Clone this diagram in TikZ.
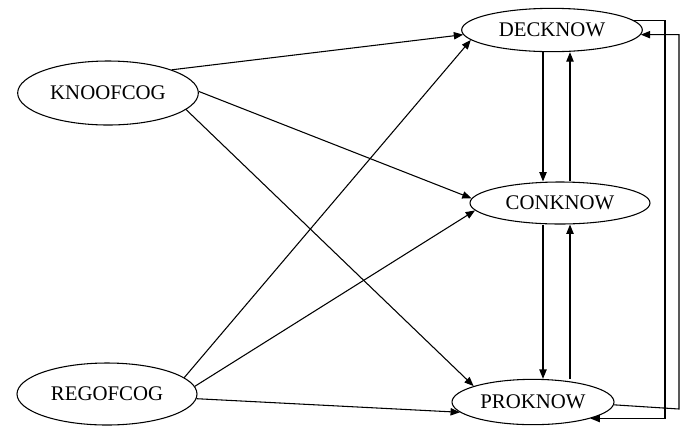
\documentclass[tikz,border=0pt]{standalone}
\usepackage{fontspec}
\setmainfont{Liberation Serif}
\usetikzlibrary{shapes.geometric,arrows.meta}
\begin{document}
\begin{tikzpicture}[x=0.75pt,y=-0.75pt,
  oval/.style={draw,ellipse,inner sep=0pt,line width=0.8pt,font=\fontsize{15.6}{18}\selectfont},
  link/.style={line width=0.8pt,-{Triangle[length=7pt,width=5.5pt]}},
  plain/.style={line width=0.8pt}]
\useasboundingbox (0,0) rectangle (685,426);
\node[oval,minimum width=135.5pt,minimum height=32.5pt] (dec) at (552,30) {DECKNOW};
\node[oval,minimum width=135pt,minimum height=31.5pt] (con) at (560,203) {CONKNOW};
\node[oval,minimum width=121.5pt,minimum height=34pt] (pro) at (533,402) {PROKNOW};
\node[oval,minimum width=135.5pt,minimum height=48pt] (kno) at (108,93) {KNOOFCOG};
\node[oval,minimum width=135pt,minimum height=46.5pt] (reg) at (107,394) {REGOFCOG};
% left to right
\draw[link] (kno.20) -- (dec.183);
\draw[link] (kno.1) -- (con.177);
\draw[link] (kno.-12) -- (pro.165);
\draw[link] (reg.12) -- (dec.187);
\draw[link] (reg.5) -- (con.185);
\draw[link] (reg.-3) -- (pro.188);
% vertical pairs
\coordinate (xa) at (543,0);
\coordinate (xb) at (570,0);
\draw[link] (dec.south -| xa) -- (con.north -| xa);
\draw[link] (con.north -| xb) -- (dec.south -| xb);
\draw[link] (con.south -| xa) -- (pro.north -| xa);
\draw[link] (pro.north -| xb) -- (con.south -| xb);
% right loops
\coordinate (ra) at (665,0);
\coordinate (rb) at (679,409);
\draw[link] (dec.7) -- (dec.7 -| ra) -- (ra |- pro.344) -- (pro.344);
\draw[link] (pro.358) -- (rb) -- (rb |- dec.357) -- (dec.357);
\end{tikzpicture}
\end{document}
